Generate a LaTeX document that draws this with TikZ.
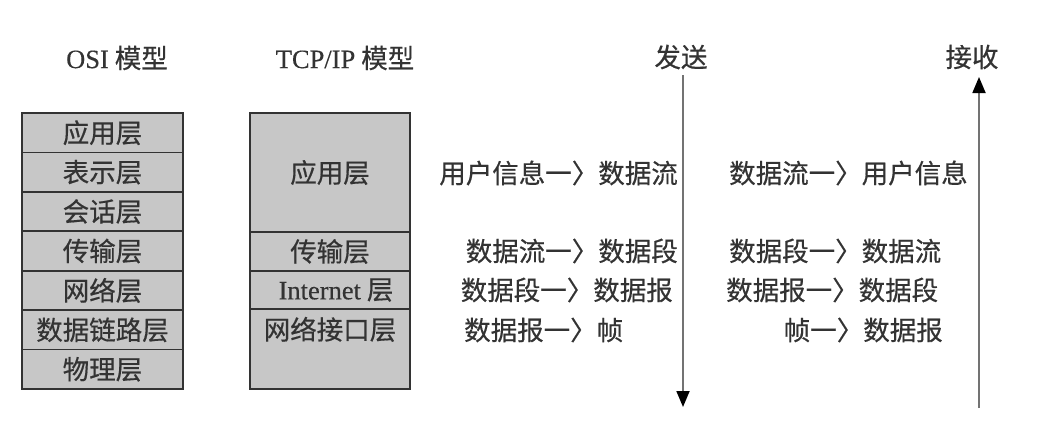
\documentclass[tikz,border=0pt]{standalone}
\usepackage{fontspec}
\setmainfont{Noto Sans CJK SC}[FakeBold=0.5]
\newfontfamily\latinfont{Liberation Serif}[FakeBold=0.3]
\usetikzlibrary{arrows.meta}
\tikzset{
  txt/.style={inner sep=0pt, font=\fontsize{26.5pt}{30pt}\selectfont, text=black!80},
  cell/.style={draw=black!80, line width=1.8pt, fill=black!22, inner sep=0pt,
    font=\fontsize{26.5pt}{30pt}\selectfont, text=black!80},
  flow/.style={draw=black!55, line width=1.8pt, -{Triangle[width=13pt,length=16pt,color=black]}}
}
\begin{document}
\begin{tikzpicture}[x=1pt,y=-1pt]
\useasboundingbox (0,0) rectangle (1050,431);
% titles
\node[txt] (osititle) at (117,58) {{\latinfont OSI} 模型};
\node[txt] (tcptitle) at (345,58) {{\latinfont TCP/IP} 模型};
\node[txt] (send) at (681,57) {发送};
\node[txt] (recv) at (972,57) {接收};
% OSI stack
\foreach \t [count=\i from 0] in {应用层,表示层,会话层,传输层,网络层,数据链路层,物理层}{
  \node[cell, minimum width=161pt, minimum height=39.43pt] (osi\i) at (102.5,{113+39.43*(\i+0.5)}) {\t};
}
% TCP/IP stack
\node[cell, minimum width=160pt, minimum height=119pt] (tapp) at (330,172.5) {应用层};
\node[cell, minimum width=160pt, minimum height=39pt] (ttra) at (330,251.5) {传输层};
\node[cell, minimum width=160pt, minimum height=38pt] (tint) at (330,290) {\hspace*{12pt}{\latinfont Internet} 层};
\node[cell, minimum width=160pt, text height=30.5pt, text depth=49.5pt, inner ysep=0pt] (tnet) at (330,349) {网络接口层};
% send side
\node[txt, anchor=east] (s1) at (678,173) {用户信息一〉数据流};
\node[txt, anchor=east] (s2) at (678,251) {数据流一〉数据段};
\node[txt, anchor=east] (s3) at (673,290) {数据段一〉数据报};
\node[txt, anchor=west] (s4) at (464,330) {数据报一〉帧};
% receive side
\node[txt, anchor=west] (r1) at (729,173) {数据流一〉用户信息};
\node[txt, anchor=west] (r2) at (729,251) {数据段一〉数据流};
\node[txt, anchor=west] (r3) at (726,290) {数据报一〉数据段};
\node[txt, anchor=east] (r4) at (943,330) {帧一〉数据报};
% arrows
\coordinate (sendtop) at (683,75);
\coordinate (sendbot) at (683,407);
\coordinate (recvbot) at (979,408);
\coordinate (recvtop) at (979,77);
\draw[flow] (sendtop) -- (sendbot);
\draw[flow] (recvbot) -- (recvtop);
\end{tikzpicture}
\end{document}
